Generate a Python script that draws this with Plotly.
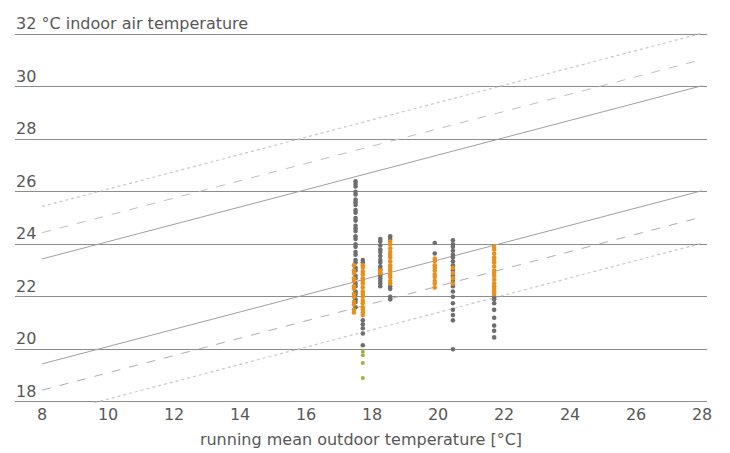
import plotly.graph_objects as go

# ---- data ----
x_ticks = [8, 10, 12, 14, 16, 18, 20, 22, 24, 26, 28]
x_tick_labels = ["8", "10", "12", "14", "16", "18", "20", "22", "24", "26", "28"]
y_ticks = [18, 20, 22, 24, 26, 28, 30, 32]
y_tick_labels = ["18", "20", "22", "24", "26", "28", "30", "32 °C indoor air temperature"]

# comfort band lines: indoor = slope * running_mean + base + offset
band_x = [8, 28]
band_slope = 0.33
band_base = 18.8
band_offsets = [4, 3, 2, -2, -3, -4]

# measured points (running mean outdoor temp, indoor temp)
grey_x = ([17.5] * 34 + [17.72] * 2 + [17.72] * 5 + [18.25] * 16 + [18.55] * 6
          + [19.9] * 2 + [20.45] * 19 + [21.7] * 8)
grey_y = ([26.4, 26.3, 26.2, 26.0, 25.9, 25.7, 25.6, 25.5, 25.3, 25.2, 25.0, 24.9,
           24.7, 24.6, 24.5, 24.3, 24.2, 24.0, 23.9, 23.7, 23.6, 23.4, 23.3, 23.1,
           23.0, 22.8, 22.7, 22.5, 22.4, 22.2, 22.1, 21.9, 21.8, 21.6]
          + [23.4, 23.3]
          + [21.1, 20.95, 20.8, 20.6, 20.15]
          + [24.2, 24.1, 23.95, 23.8, 23.7, 23.55, 23.4, 23.3, 23.15, 23.05, 22.9,
             22.8, 22.7, 22.6, 22.5, 22.4]
          + [24.3, 24.2, 22.4, 22.3, 22.0, 21.9]
          + [24.05, 23.65]
          + [24.15, 24.0, 23.9, 23.75, 23.6, 23.5, 23.35, 23.2, 23.0, 22.8, 22.6,
             22.4, 22.2, 22.0, 21.75, 21.5, 21.3, 21.1, 20.0]
          + [22.0, 21.9, 21.75, 21.5, 21.2, 20.9, 20.7, 20.45])

orange_x = ([17.45] * 13 + [17.72] * 17 + [18.25] * 2 + [18.55] * 14
            + [19.9] * 10 + [20.45] * 4 + [21.7] * 16)
orange_y = ([23.2, 23.0, 22.9, 22.7, 22.6, 22.4, 22.3, 22.1, 22.0, 21.8, 21.7, 21.5, 21.4]
            + [23.2, 23.1, 22.95, 22.85, 22.7, 22.6, 22.5, 22.35, 22.2, 22.1, 22.0,
               21.85, 21.75, 21.6, 21.5, 21.4, 21.3]
            + [23.0, 22.9]
            + [24.1, 24.0, 23.85, 23.7, 23.6, 23.5, 23.35, 23.2, 23.1, 23.0, 22.85,
               22.75, 22.6, 22.5]
            + [23.45, 23.35, 23.2, 23.1, 23.0, 22.85, 22.75, 22.6, 22.5, 22.35]
            + [23.1, 22.9, 22.7, 22.5]
            + [23.9, 23.8, 23.65, 23.5, 23.4, 23.3, 23.15, 23.0, 22.9, 22.8, 22.65,
               22.5, 22.4, 22.3, 22.2, 22.1])

olive_x = [17.72, 17.72, 17.72, 17.72]
olive_y = [19.9, 19.77, 19.47, 18.9]

# ---- styling ----
FONT = "DejaVu Sans"
TEXT = "#585858"
band_styles = {
    4: dict(color="#c8c8c8", dash="dot", width=1.2),
    3: dict(color="#c0c0c0", dash="dash", width=1),
    2: dict(color="#a0a0a0", dash="solid", width=1),
    -2: dict(color="#a0a0a0", dash="solid", width=1),
    -3: dict(color="#a6aebb", dash="dash", width=1),
    -4: dict(color="#c8c8c8", dash="dot", width=1.2),
}

fig = go.Figure()
for off in band_offsets:
    fig.add_trace(go.Scatter(
        x=band_x,
        y=[band_slope * v + band_base + off for v in band_x],
        mode="lines", line=band_styles[off], hoverinfo="skip", showlegend=False))

fig.add_trace(go.Scatter(x=olive_x, y=olive_y, mode="markers",
                         marker=dict(color="#a6ad45", size=4), showlegend=False))
fig.add_trace(go.Scatter(x=grey_x, y=grey_y, mode="markers",
                         marker=dict(color="#6e6e6e", size=4.6), showlegend=False))
fig.add_trace(go.Scatter(x=orange_x, y=orange_y, mode="markers",
                         marker=dict(color="#e8901c", size=4.6), showlegend=False))

for v, lab in zip(y_ticks, y_tick_labels):
    fig.add_annotation(x=0, xref="paper", y=v, yref="y", text=lab,
                       xanchor="left", yanchor="bottom", showarrow=False,
                       font=dict(family=FONT, size=16, color=TEXT), borderpad=0)

# page body has an 8px margin, so the figure is 8px smaller and margins shifted
fig.update_layout(
    width=722, height=445,
    margin=dict(l=7, r=23, t=25, b=50),
    paper_bgcolor="white", plot_bgcolor="white",
    font=dict(family=FONT, color=TEXT),
    xaxis=dict(range=[7.18, 28.15], tickvals=x_ticks, ticktext=x_tick_labels,
               showgrid=False, zeroline=False, showline=False, ticks="",
               tickfont=dict(family=FONT, size=16, color=TEXT),
               title=dict(text="running mean outdoor temperature [°C]",
                          font=dict(family=FONT, size=16, color=TEXT), standoff=10)),
    yaxis=dict(range=[17.95, 32.05], tickvals=y_ticks, showticklabels=False,
               showgrid=True, gridcolor="#8c8c8c", gridwidth=1,
               zeroline=False, showline=False, ticks=""),
)

fig.write_html("out.html")
